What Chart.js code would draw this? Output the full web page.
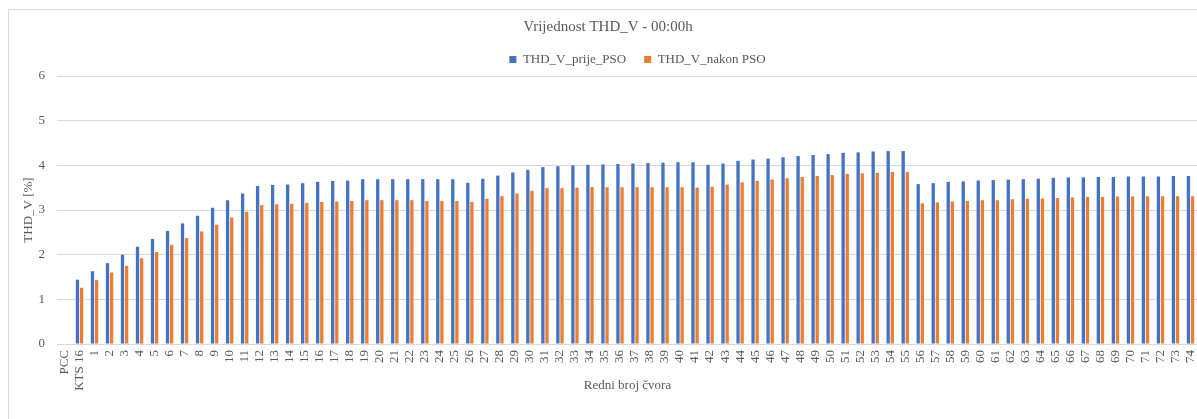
<!DOCTYPE html>
<html>
<head>
<meta charset="utf-8">
<script src="https://cdn.jsdelivr.net/npm/chart.js@4/dist/chart.umd.min.js"></script>
<style>
    html, body { margin: 0; padding: 0; background: #ffffff; overflow: hidden; }
    body { width: 1197px; height: 419px; position: relative; }
    #frame { position: absolute; left: 8px; top: 9px; width: 1300px; height: 500px; border: 1px solid #d9d9d9; }
    #thdChart { position: absolute; left: 0; top: 0; }
</style>
</head>
<body>
<div id="frame"></div>
<canvas id="thdChart" width="1216" height="419"></canvas>
<script>
// Node labels (x axis)
const nodeLabels = ['PCC', 'KTS 16',
    '1', '2', '3', '4', '5', '6', '7', '8', '9', '10',
    '11', '12', '13', '14', '15', '16', '17', '18', '19', '20',
    '21', '22', '23', '24', '25', '26', '27', '28', '29', '30',
    '31', '32', '33', '34', '35', '36', '37', '38', '39', '40',
    '41', '42', '43', '44', '45', '46', '47', '48', '49', '50',
    '51', '52', '53', '54', '55', '56', '57', '58', '59', '60',
    '61', '62', '63', '64', '65', '66', '67', '68', '69', '70',
    '71', '72', '73', '74'];

// THD_V before PSO [%]
const thdPrije = [null, 1.44,
    1.63, 1.81, 2.00, 2.18, 2.35, 2.53, 2.70, 2.87, 3.05, 3.22,
    3.37, 3.54, 3.56, 3.57, 3.60, 3.63, 3.65, 3.66, 3.69, 3.69,
    3.69, 3.69, 3.69, 3.69, 3.69, 3.61, 3.70, 3.77, 3.84, 3.90,
    3.96, 3.98, 4.00, 4.01, 4.02, 4.03, 4.04, 4.05, 4.06, 4.07,
    4.07, 4.01, 4.04, 4.10, 4.13, 4.15, 4.18, 4.21, 4.23, 4.25,
    4.28, 4.29, 4.31, 4.32, 4.32, 3.58, 3.60, 3.63, 3.64, 3.66,
    3.67, 3.68, 3.69, 3.70, 3.72, 3.73, 3.73, 3.74, 3.74, 3.75,
    3.75, 3.75, 3.76, 3.76];

// THD_V after PSO [%]
const thdNakon = [null, 1.26,
    1.43, 1.60, 1.75, 1.92, 2.06, 2.22, 2.37, 2.52, 2.67, 2.83,
    2.96, 3.11, 3.13, 3.14, 3.16, 3.18, 3.19, 3.20, 3.22, 3.22,
    3.22, 3.22, 3.20, 3.20, 3.20, 3.18, 3.25, 3.31, 3.37, 3.43,
    3.49, 3.49, 3.50, 3.51, 3.51, 3.51, 3.51, 3.51, 3.51, 3.51,
    3.50, 3.52, 3.57, 3.62, 3.65, 3.68, 3.71, 3.74, 3.76, 3.78,
    3.81, 3.82, 3.83, 3.85, 3.85, 3.15, 3.17, 3.19, 3.20, 3.22,
    3.22, 3.24, 3.25, 3.26, 3.27, 3.28, 3.29, 3.29, 3.30, 3.30,
    3.31, 3.31, 3.31, 3.31];

const yTicks = [0, 1, 2, 3, 4, 5, 6];

const serif = "'Times New Roman', 'Liberation Serif', serif";
const textColor = '#595959';
const gridColor = '#d9d9d9';

// legend sits a bit right of the plot centre in the original
const legendShift = {
    id: 'legendShift',
    afterLayout(chart) {
        if (chart.legend) {
            chart.legend.left += 10;
            chart.legend.right += 10;
        }
    }
};

new Chart(document.getElementById('thdChart'), {
    type: 'bar',
    data: {
        labels: nodeLabels,
        datasets: [{
            label: 'THD_V_prije_PSO',
            data: thdPrije,
            backgroundColor: '#4472c4',
            categoryPercentage: 0.55,
            barPercentage: 0.8
        }, {
            label: 'THD_V_nakon PSO',
            data: thdNakon,
            backgroundColor: '#ed7d31',
            categoryPercentage: 0.55,
            barPercentage: 0.8
        }]
    },
    options: {
        responsive: false,
        animation: false,
        layout: { padding: { left: 0, right: 0, top: 0, bottom: 26 } },
        scales: {
            x: {
                grid: { display: false },
                border: { color: gridColor },
                ticks: {
                    autoSkip: false,
                    maxRotation: 90,
                    minRotation: 90,
                    padding: -2,
                    color: textColor,
                    font: { family: serif, size: 13 }
                },
                title: {
                    display: true,
                    text: 'Redni broj čvora',
                    color: textColor,
                    padding: 0,
                    font: { family: serif, size: 13 }
                },
                afterFit: s => { s.height = 49; }
            },
            y: {
                min: 0,
                max: 6,
                afterBuildTicks: s => { s.ticks = yTicks.map(v => ({ value: v })); },
                grid: { color: gridColor, drawTicks: false },
                border: { display: false },
                ticks: {
                    padding: 12,
                    color: textColor,
                    font: { family: serif, size: 13 }
                },
                title: {
                    display: true,
                    text: 'THD_V [%]',
                    color: textColor,
                    padding: { top: 21, bottom: 0 },
                    font: { family: serif, size: 13 }
                },
                afterFit: s => { s.width = 57; }
            },
            spacer: {
                type: 'linear',
                position: 'right',
                grid: { display: false },
                border: { display: false },
                ticks: { display: false },
                afterFit: s => { s.width = 18; }
            }
        },
        plugins: {
            title: {
                display: true,
                text: 'Vrijednost THD_V - 00:00h',
                color: textColor,
                padding: { top: 20, bottom: 0 },
                font: { family: serif, size: 15, weight: 'normal', lineHeight: 1 }
            },
            legend: {
                position: 'top',
                fullSize: false,
                labels: {
                    boxWidth: 7,
                    boxHeight: 7,
                    padding: 18,
                    color: textColor,
                    font: { family: serif, size: 13 }
                }
            },
            tooltip: { enabled: false }
        }
    },
    plugins: [legendShift]
});
</script>
</body>
</html>
